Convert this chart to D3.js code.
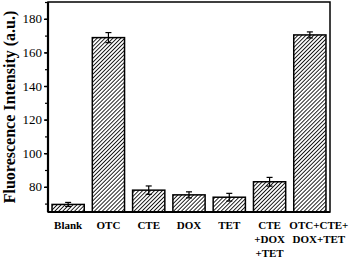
<!DOCTYPE html>
<html>
<head>
<meta charset="utf-8">
<script src="https://cdn.jsdelivr.net/npm/d3@7"></script>
<style>
  body { margin: 0; background: #fff; }
  svg { display: block; }
</style>
</head>
<body>
<div id="chart"></div>
<script>
// Data
const categories = ["Blank", "OTC", "CTE", "DOX", "TET", "CTE\n+DOX\n+TET", "OTC+CTE+\nDOX+TET"];
const values = [69.5, 168.8, 78.0, 75.2, 73.8, 83.0, 170.4];
const errors = [1.2, 3.0, 2.5, 1.8, 2.3, 2.6, 1.8];
const yTicks = [80, 100, 120, 140, 160, 180];

const width = 354, height = 260;
const margin = { top: 2, right: 24, bottom: 48, left: 48 };

const svg = d3.select("#chart")
  .append("svg")
  .attr("width", width)
  .attr("height", height);

// Hatch pattern for the bars
const defs = svg.append("defs");
const pattern = defs.append("pattern")
  .attr("id", "hatch")
  .attr("patternUnits", "userSpaceOnUse")
  .attr("width", 2.8)
  .attr("height", 2.8)
  .attr("patternTransform", "rotate(45)");
pattern.append("rect").attr("width", 2.8).attr("height", 2.8).attr("fill", "#fff");
pattern.append("line")
  .attr("x1", 0).attr("y1", 0).attr("x2", 0).attr("y2", 2.8)
  .attr("stroke", "#000")
  .attr("stroke-width", 1.7);

const xScale = d3.scaleBand()
  .domain(categories)
  .range([margin.left, width - margin.right])
  .paddingInner(0.2)
  .paddingOuter(0.1);

const yScale = d3.scaleLinear()
  .domain([65, 190])
  .range([height - margin.bottom, margin.top]);

const font = "'Times New Roman', 'Liberation Serif', 'DejaVu Serif', serif";

// Bars
svg.selectAll(".bar")
  .data(values)
  .enter()
  .append("rect")
  .attr("class", "bar")
  .attr("x", (d, i) => xScale(categories[i]))
  .attr("y", d => yScale(d))
  .attr("width", xScale.bandwidth())
  .attr("height", d => yScale(65) - yScale(d))
  .attr("fill", "url(#hatch)")
  .attr("stroke", "#000")
  .attr("stroke-width", 1.5);

// Error bars
const err = svg.selectAll(".err")
  .data(values)
  .enter()
  .append("g")
  .attr("class", "err")
  .attr("transform", (d, i) => `translate(${xScale(categories[i]) + xScale.bandwidth() / 2},0)`);
err.append("line")
  .attr("x1", 0).attr("x2", 0)
  .attr("y1", (d, i) => yScale(d - errors[i]))
  .attr("y2", (d, i) => yScale(d + errors[i]))
  .attr("stroke", "#000").attr("stroke-width", 1.2);
err.append("line")
  .attr("x1", -3).attr("x2", 3)
  .attr("y1", (d, i) => yScale(d + errors[i]))
  .attr("y2", (d, i) => yScale(d + errors[i]))
  .attr("stroke", "#000").attr("stroke-width", 1.2);
err.append("line")
  .attr("x1", -3).attr("x2", 3)
  .attr("y1", (d, i) => yScale(d - errors[i]))
  .attr("y2", (d, i) => yScale(d - errors[i]))
  .attr("stroke", "#000").attr("stroke-width", 1.2);

// Minor ticks
const minorAxis = d3.axisLeft(yScale)
  .tickValues(d3.range(70, 191, 10))
  .tickSizeInner(3)
  .tickSizeOuter(0)
  .tickFormat("");
svg.append("g")
  .attr("transform", `translate(${margin.left},0)`)
  .call(minorAxis)
  .call(g => g.select(".domain").remove())
  .selectAll("line")
  .attr("stroke-width", 1.2);

// Y axis
const yAxis = d3.axisLeft(yScale)
  .tickValues(yTicks)
  .tickSizeInner(4)
  .tickSizeOuter(0)
  .tickPadding(2);
svg.append("g")
  .attr("class", "y-axis")
  .attr("transform", `translate(${margin.left},0)`)
  .call(yAxis)
  .call(g => g.select(".domain").remove())
  .call(g => g.selectAll("line").attr("stroke-width", 1.4))
  .selectAll("text")
  .style("font-family", font)
  .style("font-size", "13px")
  .style("fill", "#000");

// Frame
svg.append("rect")
  .attr("x", margin.left)
  .attr("y", margin.top)
  .attr("width", width - margin.left - margin.right)
  .attr("height", height - margin.top - margin.bottom)
  .attr("fill", "none")
  .attr("stroke", "#000")
  .attr("stroke-width", 1.5);
svg.append("line")
  .attr("x1", margin.left).attr("x2", margin.left)
  .attr("y1", margin.top).attr("y2", height - margin.bottom)
  .attr("stroke", "#000").attr("stroke-width", 2.2);
svg.append("line")
  .attr("x1", margin.left).attr("x2", width - margin.right)
  .attr("y1", height - margin.bottom).attr("y2", height - margin.bottom)
  .attr("stroke", "#000").attr("stroke-width", 2.2);

// X labels (multi-line); the last one sits a little right of its bar
const labels = svg.selectAll(".xlabel")
  .data(categories)
  .enter()
  .append("text")
  .attr("class", "xlabel")
  .attr("text-anchor", "middle")
  .style("font-family", font)
  .style("font-size", "11px")
  .style("font-weight", "bold");
labels.each(function(d, i) {
  const t = d3.select(this);
  const shift = i === categories.length - 1 ? 9 : 0;
  d.split("\n").forEach((line, j) => {
    t.append("tspan")
      .attr("x", xScale(d) + xScale.bandwidth() / 2 + shift)
      .attr("y", 229 + j * 14)
      .text(line);
  });
});

// Y axis title
svg.append("text")
  .attr("transform", `translate(15, ${(margin.top + height - margin.bottom) / 2}) rotate(-90)`)
  .attr("text-anchor", "middle")
  .style("font-family", font)
  .style("font-size", "16px")
  .style("font-weight", "bold")
  .text("Fluorescence Intensity (a.u.)");
</script>
</body>
</html>
